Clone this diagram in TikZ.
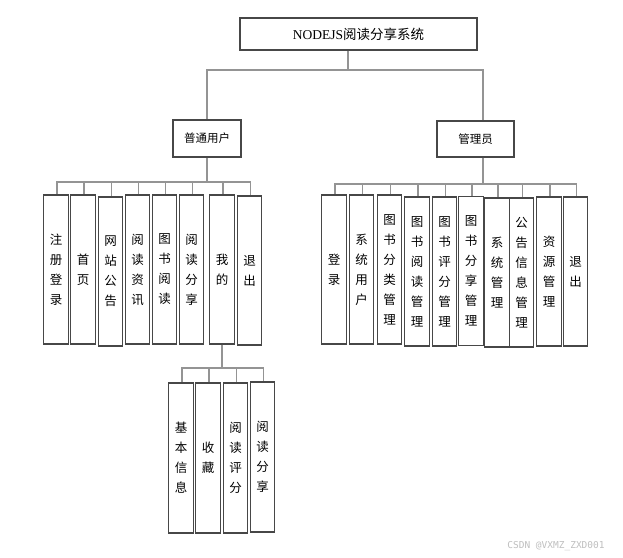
\documentclass[tikz,border=0pt]{standalone}
\usepackage{fontspec}
\setmainfont{Liberation Serif}
\newfontfamily\cjk{Noto Sans CJK SC}
\newfontfamily\wmfont{DejaVu Sans Mono}
\begin{document}
\begin{tikzpicture}[x=1pt,y=-1pt,
  box/.style={draw=black!72, line width=1.4pt, fill=white, inner sep=0pt},
  leaf/.style={box, minimum width=24.5pt, minimum height=149pt, align=center,
     font=\cjk\fontsize{12.5}{20}\selectfont},
  mid/.style={box, font=\cjk\fontsize{11.5}{14}\selectfont},
  conn/.style={draw=black!42, line width=1.6pt}]
\useasboundingbox (0,0) rectangle (623,557);
\fill[white] (0,0) rectangle (623,557);

% root
\node[box, minimum width=237pt, minimum height=32pt, font=\fontsize{13.5}{16}\selectfont] (root) at (358.5,34) {NODEJS{\cjk 阅读分享系统}};
\node[mid, minimum width=68pt, minimum height=37pt] (user) at (207,138.5) {普通用户};
\node[mid, minimum width=77pt, minimum height=36pt] (admin) at (475.5,139) {管理员};

\coordinate (rb) at (348,70);
\draw[conn] ([xshift=-10.5pt]root.south) -- (rb);
\draw[conn] (rb) -| (user.north);
\draw[conn] (rb) -| ([xshift=7.5pt]admin.north);

% user leaves
\node[leaf] (u1) at (56,269.5) {注\\册\\登\\录};
\node[leaf] (u2) at (83,269.5) {首\\页};
\node[leaf] (u3) at (110.5,271.5) {网\\站\\公\\告};
\node[leaf] (u4) at (137.5,269.5) {阅\\读\\资\\讯};
\node[leaf] (u5) at (164.5,269.5) {图\\书\\阅\\读};
\node[leaf] (u6) at (191.5,269.5) {阅\\读\\分\\享};
\node[leaf] (u7) at (222,269.5) {我\\的};
\node[leaf] (u8) at (249.5,270.5) {退\\出};

\coordinate (ub) at (207,182);
\draw[conn] (user.south) -- (ub);
\foreach \n in {u1,u2,u3,u4,u5,u6,u7,u8}{\draw[conn] (ub) -| ([xshift=1pt]\n.north);}

% admin leaves
\node[leaf] (a1) at (334,269.5) {登\\录};
\node[leaf] (a2) at (361.5,269.5) {系\\统\\用\\户};
\node[leaf] (a3) at (389.5,269.5) {图\\书\\分\\类\\管\\理};
\node[leaf] (a4) at (417,271.5) {图\\书\\阅\\读\\管\\理};
\node[leaf] (a5) at (444.5,271.5) {图\\书\\评\\分\\管\\理};
\node[leaf] (a6) at (471,271) {图\\书\\分\\享\\管\\理};
\node[leaf] (a7) at (497,272.5) {系\\统\\管\\理};
\node[leaf] (a8) at (521.5,272.5) {公\\告\\信\\息\\管\\理};
\node[leaf] (a9) at (549,271.5) {资\\源\\管\\理};
\node[leaf] (a10) at (575.5,271.5) {退\\出};

\coordinate (ab) at (483,184);
\draw[conn] ([xshift=7.5pt]admin.south) -- (ab);
\foreach \n in {a1,a2,a3,a4,a5,a6,a7,a8,a9,a10}{\draw[conn] (ab) -| ([xshift=1pt]\n.north);}

% sub leaves of 我的
\node[leaf, minimum height=150pt] (s1) at (181,458) {基\\本\\信\\息};
\node[leaf, minimum height=150pt] (s2) at (208,458) {收\\藏};
\node[leaf, minimum height=150pt] (s3) at (235.5,458) {阅\\读\\评\\分};
\node[leaf, minimum height=150pt] (s4) at (262.5,457) {阅\\读\\分\\享};

\coordinate (sb) at (222,368);
\draw[conn] (u7.south) -- (sb);
\foreach \n in {s1,s2,s3,s4}{\draw[conn] (sb) -| ([xshift=1pt]\n.north);}

% watermark
\node[text=black!25, font=\wmfont\fontsize{9.5}{11}\selectfont, inner sep=0pt] (wm) at (556,546) {CSDN @VXMZ\_ZXD001};
\end{tikzpicture}
\end{document}
